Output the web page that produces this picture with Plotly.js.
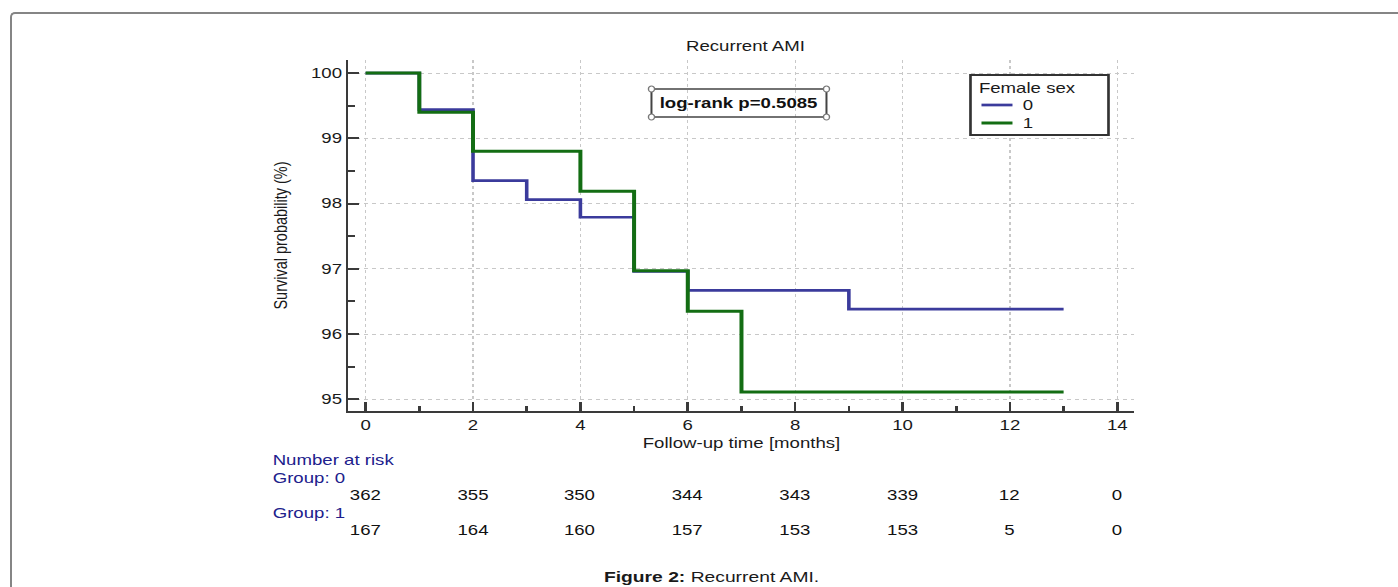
<!DOCTYPE html>
<html>
<head>
<meta charset="utf-8">
<script src="https://cdn.plot.ly/plotly-3.0.1.min.js"></script>
<style>
  html, body { margin: 0; padding: 0; background: #ffffff; overflow: hidden; }
  #frame { position: absolute; left: 10px; top: 12px; width: 1500px; height: 700px;
           border-top: 2px solid #858585; border-left: 2px solid #858585; border-top-left-radius: 5px; }
  #chart { position: absolute; left: 0; top: 0; transform-origin: 0 0; }
</style>
</head>
<body>
<div id="frame"></div>
<div id="chart"></div>
<script>
// ---- data ----
const time0 = [0, 1, 2, 3, 4, 5, 6, 9, 13];
const surv0 = [100, 99.44, 98.35, 98.06, 97.79, 96.96, 96.67, 96.38, 96.38];
const time1 = [0, 1, 2, 4, 5, 6, 7, 13];
const surv1 = [100, 99.40, 98.80, 98.19, 96.97, 96.35, 95.11, 95.11];
const groupNames = ['0', '1'];
const legendTitle = 'Female sex';
const riskTimes = [0, 2, 4, 6, 8, 10, 12, 14];
const atRisk0 = [362, 355, 350, 344, 343, 339, 12, 0];
const atRisk1 = [167, 164, 160, 157, 153, 153, 5, 0];
const xTicks = [0, 2, 4, 6, 8, 10, 12, 14];
const yTicks = [95, 96, 97, 98, 99, 100];

// ---- geometry (reference image is horizontally stretched) ----
const S = 1.33;
const W = 1398 / S, H = 587;
const plotL = 348 / S, plotR = 1134 / S;
const el = document.getElementById('chart');
el.style.width = W + 'px';
el.style.height = H + 'px';
el.style.transform = 'scaleX(' + S + ')';

const FONT = 'Liberation Sans, Arial, Helvetica, sans-serif';
const blue = '#3b3b9c', green = '#136d13', navy = '#20208c';
const colors = [blue, green];
const widths = [2.7, 3];

const traces = [
  { x: time0, y: surv0, mode: 'lines', name: groupNames[0], line: { shape: 'hv', color: colors[0], width: widths[0] } },
  { x: time1, y: surv1, mode: 'lines', name: groupNames[1], line: { shape: 'hv', color: colors[1], width: widths[1] } }
];

// paper coordinates helpers from reference pixels
const px = X => (X - 348) / (1134 - 348);
const py = Y => (411 - Y) / (411 - 60);

const txt = (text, x, y, xanchor, color, size, extra) => Object.assign({
  text: text, xref: 'paper', yref: 'paper', x: x, y: y, xanchor: xanchor, yanchor: 'middle',
  showarrow: false, font: { family: FONT, size: size || 14, color: color || '#111' }
}, extra || {});

const annotations = [
  txt('<b>log-rank p=0.5085</b>', px(738.5), py(103), 'center', '#111'),
  txt('Number at risk', px(269), py(460), 'left', navy),
  txt('Group: 0', px(269), py(478), 'left', navy),
  txt('Group: 1', px(269), py(513), 'left', navy),
  txt('<b>Figure 2:</b> Recurrent AMI.', px(711.5), py(577), 'center', '#1a1a1a', 14.5),
  // legend texts
  txt(legendTitle, px(976), py(88), 'left', '#1a1a1a'),
  txt(groupNames[0], px(1019), py(105), 'left', '#1a1a1a'),
  txt(groupNames[1], px(1019), py(123), 'left', '#1a1a1a')
];
riskTimes.forEach((t, i) => {
  annotations.push(Object.assign(txt(String(atRisk0[i]), t, py(495), 'center', '#111'), { xref: 'x' }));
  annotations.push(Object.assign(txt(String(atRisk1[i]), t, py(530), 'center', '#111'), { xref: 'x' }));
});

// box around log-rank text with small corner handles
const bx0 = px(651), bx1 = px(826), by0 = py(117), by1 = py(89);
const shapes = [
  { type: 'rect', xref: 'paper', yref: 'paper', x0: bx0, x1: bx1, y0: by0, y1: by1, line: { color: '#444', width: 1.5 }, fillcolor: 'rgba(0,0,0,0)' },
  // legend box and keys
  { type: 'rect', xref: 'paper', yref: 'paper', x0: px(970), x1: px(1108), y0: py(135), y1: py(75), line: { color: '#333', width: 2 }, fillcolor: '#ffffff' },
  { type: 'line', xref: 'paper', yref: 'paper', x0: px(981), x1: px(1012), y0: py(105), y1: py(105), line: { color: colors[0], width: widths[0] } },
  { type: 'line', xref: 'paper', yref: 'paper', x0: px(981), x1: px(1012), y0: py(123), y1: py(123), line: { color: colors[1], width: widths[1] } }
];
[[bx0, by0], [bx1, by0], [bx0, by1], [bx1, by1]].forEach(([cx, cy]) => {
  shapes.push({ type: 'circle', xref: 'paper', yref: 'paper', xsizemode: 'pixel', ysizemode: 'pixel',
    xanchor: cx, yanchor: cy, x0: -2.3, x1: 2.3, y0: -3, y1: 3,
    line: { color: '#777', width: 1 }, fillcolor: '#ffffff' });
});

const layout = {
  width: W, height: H,
  margin: { l: plotL, r: W - plotR, t: 60, b: 176, pad: 0 },
  paper_bgcolor: 'rgba(0,0,0,0)', plot_bgcolor: '#ffffff',
  font: { family: FONT, size: 14, color: '#1a1a1a' },
  title: { text: 'Recurrent AMI', xref: 'paper', x: px(745), yref: 'container', y: 1 - 46 / H,
           xanchor: 'center', yanchor: 'middle', font: { family: FONT, size: 14, color: '#1a1a1a' } },
  xaxis: {
    range: [-0.32, 14.32], tickvals: xTicks, ticktext: xTicks.map(String),
    ticks: 'inside', ticklen: 9, tickwidth: 2, tickcolor: '#3a3a3a',
    showline: true, linecolor: '#3a3a3a', linewidth: 2, mirror: false, zeroline: false,
    showgrid: true, gridcolor: '#c8c8c8', gridwidth: 1, griddash: 'dot',
    minor: { dtick: 1, tick0: 0, ticks: 'inside', ticklen: 5, tickwidth: 2, tickcolor: '#3a3a3a', showgrid: false },
    tickfont: { family: FONT, size: 14, color: '#1a1a1a' },
    title: { text: 'Follow-up time [months]', standoff: 6, font: { family: FONT, size: 14, color: '#1a1a1a' } },
    automargin: false, fixedrange: true
  },
  yaxis: {
    range: [94.82, 100.2], tickvals: yTicks, ticktext: yTicks.map(String),
    ticks: 'inside', ticklen: 8, tickwidth: 2, tickcolor: '#3a3a3a',
    showline: true, linecolor: '#3a3a3a', linewidth: 2, zeroline: false,
    showgrid: true, gridcolor: '#c8c8c8', gridwidth: 1, griddash: 'dot',
    minor: { dtick: 0.5, tick0: 95, ticks: 'inside', ticklen: 5, tickwidth: 2, tickcolor: '#3a3a3a', showgrid: false },
    tickfont: { family: FONT, size: 14, color: '#1a1a1a' },
    title: { text: 'Survival probability (%)', standoff: 14, font: { family: FONT, size: 14.5, color: '#1a1a1a' } },
    automargin: false, fixedrange: true
  },
  showlegend: false,
  annotations: annotations,
  shapes: shapes
};

Plotly.newPlot(el, traces, layout, { displayModeBar: false, staticPlot: true });
</script>
</body>
</html>
